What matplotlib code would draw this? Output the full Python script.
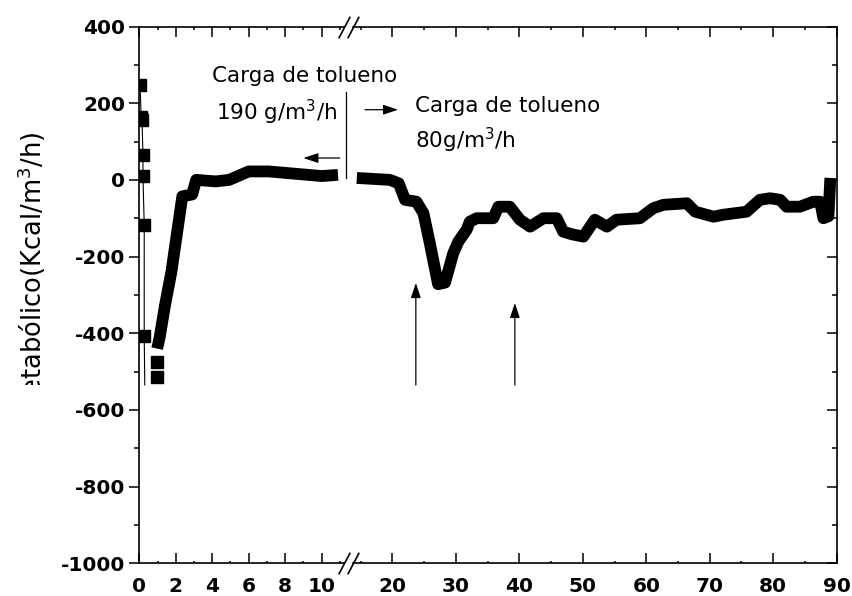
import numpy as np
import matplotlib
matplotlib.use("Agg")
import matplotlib.pyplot as plt
from matplotlib.ticker import MultipleLocator
from matplotlib.transforms import Bbox, TransformedBbox

plt.rcParams["axes.unicode_minus"] = False

# primeros puntos dispersos (t < 0.5 d)
t_disp = [0.04, 0.10, 0.15, 0.20, 0.20, 0.27, 0.27, 0.30]
q_disp = [248, 165, 157, 65, 9, -117, -407, -535]
t_sueltos = [0.95, 0.95]
q_sueltos = [-474, -513]

# tramo 1: carga 190 g/m3/h
t_1 = [0.98, 1.12, 1.40, 1.76, 2.12, 2.36, 2.90, 3.12, 4.20, 4.93, 6.00,
       7.10, 8.55, 10.00, 10.90]
q_1 = [-440, -410, -330, -240, -122, -43, -38, 0, -4, 0, 22, 22, 16, 10, 13]

# tramo 2: carga 80 g/m3/h
t_2 = [14.4, 19.6, 21.0, 22.0, 23.8, 24.9, 25.9, 27.2, 28.3, 29.6, 30.4,
       31.7, 32.2, 33.3, 35.9, 36.7, 38.5, 40.1, 41.7, 43.8, 45.9, 46.9,
       48.3, 50.1, 51.9, 53.8, 55.3, 59.0, 61.1, 62.7, 66.4, 67.7, 70.6,
       72.1, 75.8, 77.9, 79.5, 81.1, 82.1, 84.2, 86.3, 87.4, 87.9, 88.7,
       89.0]
q_2 = [5, 0, -9, -52, -57, -87, -165, -272, -268, -191, -161, -130, -109,
       -100, -100, -70, -70, -104, -122, -100, -100, -135, -142, -148, -104,
       -122, -104, -100, -74, -65, -61, -83, -96, -91, -83, -52, -48, -52,
       -70, -70, -57, -57, -100, -95, 5]

xticks_1 = [0, 2, 4, 6, 8, 10]
xticks_2 = [20, 30, 40, 50, 60, 70, 80, 90]
yticks = [-1000, -800, -600, -400, -200, 0, 200, 400]

W, H = 853, 596
fig = plt.figure(figsize=(W / 100, H / 100), dpi=100)
bot = (H - 563.3) / H
alto = (563.3 - 26.5) / H
ax1 = fig.add_axes([139.3 / W, bot, (344 - 139.3) / W, alto])
ax2 = fig.add_axes([353 / W, bot, (836.7 - 353) / W, alto])
ax1.patch.set_visible(False)
ax2.patch.set_visible(False)
ax1.set_zorder(3)

ax1.plot(t_disp, q_disp, color="k", lw=0.8, marker="s", ms=8,
         markevery=list(range(7)))
ax1.plot(t_sueltos, q_sueltos, "s", color="k", ms=8)
ax1.plot(t_1, q_1, color="k", lw=8.5, solid_joinstyle="round",
         solid_capstyle="butt")
ax2.plot(t_2, q_2, color="k", lw=8.5, solid_joinstyle="round",
         solid_capstyle="butt")

ax1.set_xlim(0, 11.23)
ax2.set_xlim(13.8, 90)
for ax in (ax1, ax2):
    ax.set_ylim(-1000, 400)
    ax.set_yticks(yticks)
    ax.yaxis.set_minor_locator(MultipleLocator(100))
    for s in ax.spines.values():
        s.set_linewidth(1.2)
    ax.tick_params(axis="x", which="both", direction="in", top=True,
                   bottom=True, width=1.1, labelsize=14.5, pad=10)
    ax.tick_params(axis="x", which="major", length=7.2)
    ax.tick_params(axis="x", which="minor", length=1.8)

ax1.set_xticks(xticks_1)
ax1.xaxis.set_minor_locator(MultipleLocator(1))
ax2.set_xticks(xticks_2)
ax2.xaxis.set_minor_locator(MultipleLocator(5))

ax1.spines["right"].set_visible(False)
ax1.tick_params(axis="y", which="both", direction="out", left=True,
                right=False, width=1.1, labelsize=14.5, pad=3)
ax1.tick_params(axis="y", which="major", length=7.2)
ax1.tick_params(axis="y", which="minor", length=3.6)
for lab in ax1.get_yticklabels() + ax1.get_xticklabels():
    lab.set_fontweight("bold")
for lab in ax2.get_xticklabels():
    lab.set_fontweight("bold")

ax2.spines["left"].set_visible(False)
ax2.tick_params(axis="y", which="both", direction="in", left=False,
                right=True, labelleft=False, width=1.1)
ax2.tick_params(axis="y", which="major", length=7.2)
ax2.tick_params(axis="y", which="minor", length=3.6)

# marcas de corte //
d = 1.9
kw = dict(marker=[(-1, -d), (1, d)], markersize=15.6, linestyle="none",
          color="k", mec="k", mew=1.2, clip_on=False)
ax1.plot([1, 1], [0, 1], transform=ax1.transAxes, **kw)
ax2.plot([0, 0], [0, 1], transform=ax2.transAxes, **kw)

# anotaciones
ax1.text(4.0, 256, "Carga de tolueno", fontsize=15.5, va="baseline")
ax1.text(4.2, 156, "190 g/m$^3$/h", fontsize=15.5, va="baseline")
ax2.text(23.6, 178, "Carga de tolueno", fontsize=15.5, va="baseline")
ax2.text(23.6, 83, "80g/m$^3$/h", fontsize=15.5, va="baseline")
ax1.plot([11.36, 11.36], [4, 230], color="k", lw=0.9, clip_on=False)

flecha = dict(arrowstyle="-|>,head_length=0.6,head_width=0.2", color="k",
              lw=0.9, mutation_scale=15, shrinkA=0, shrinkB=0)
ax1.annotate("", xy=(9.0, 57), xytext=(11.0, 57), arrowprops=flecha)
ax2.annotate("", xy=(20.9, 183), xytext=(15.7, 183), arrowprops=flecha)
ax2.annotate("", xy=(23.7, -269), xytext=(23.7, -535), arrowprops=flecha)
ax2.annotate("", xy=(39.3, -321), xytext=(39.3, -535), arrowprops=flecha)

# etiqueta del eje y (recortada como en el original)
lbl = fig.text(32 / W, 1 - 131.7 / H, "Calor metabólico(Kcal/m$^3$/h)",
               rotation=90, ha="center", va="top", fontsize=18.5)
lbl.set_clip_box(TransformedBbox(Bbox.from_extents(0, 1 - 385 / H, 1, 1),
                                 fig.transFigure))
lbl.set_clip_on(True)

fig.savefig("out.png", dpi=100)
